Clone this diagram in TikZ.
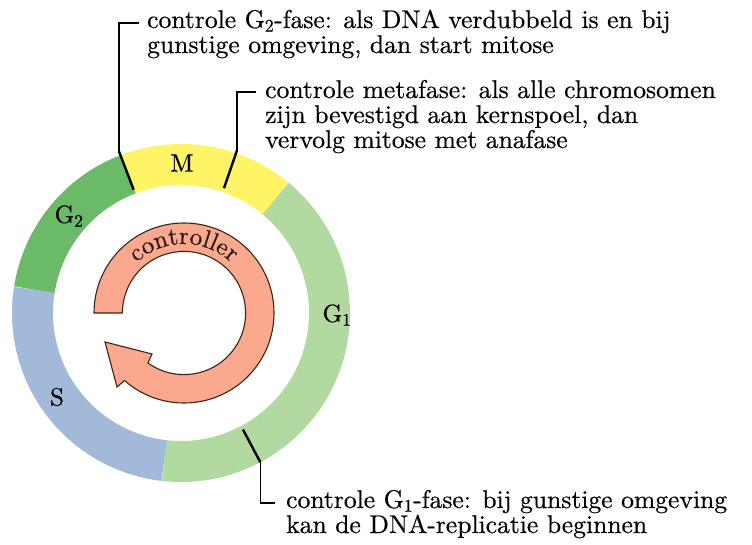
\documentclass[tikz,border=0pt]{standalone}
\usepackage{fontspec}
\setmainfont{lmroman10-regular}[Extension=.otf, BoldFont=lmroman10-regular, BoldFeatures={FakeBold=0.45}, ItalicFont=lmroman10-italic]
\usetikzlibrary{decorations.text}
\definecolor{cM}{HTML}{FFF366}
\definecolor{cGtwo}{HTML}{6BBA68}
\definecolor{cGone}{HTML}{B2DAA0}
\definecolor{cS}{HTML}{A3B9DA}
\definecolor{cArrow}{HTML}{FAA88E}
\definecolor{cEdge}{HTML}{3A2418}
\definecolor{cWord}{HTML}{2A1A12}
\tikzset{
  seg/.style={line width=41pt},
  lab/.style={inner sep=0pt, font=\fontsize{25}{25}\selectfont\bfseries},
  txt/.style={inner sep=0pt, align=left, font=\fontsize{25.6}{25}\selectfont\bfseries},
  ckthick/.style={line width=2.4pt, black},
  ckthin/.style={line width=1.6pt, black, line cap=rect},
  arrowshape/.style={fill=cArrow, draw=cEdge, line width=1.1pt, line join=miter}
}
\begin{document}
\begin{tikzpicture}[x=1pt,y=1pt]
\useasboundingbox (0,0) rectangle (752,544);
\coordinate (C) at (181,231);
% ring segments
\draw[seg, cGone] ([shift={(-96.5:148.5)}]C) arc[start angle=-96.5, end angle=50.5, radius=148.5];
\draw[seg, cM] ([shift={(50.5:148.5)}]C) arc[start angle=50.5, end angle=111, radius=148.5];
\draw[seg, cGtwo] ([shift={(111:148.5)}]C) arc[start angle=111, end angle=171, radius=148.5];
\draw[seg, cS] ([shift={(171:148.5)}]C) arc[start angle=171, end angle=263.5, radius=148.5];
% ring labels
\node[lab] (lM) at (182,381) {M};
\node[lab] (lG2) at (69,328) {G\textsubscript{2}};
\node[lab] (lG1) at (337,229) {G\textsubscript{1}};
\node[lab] (lS) at (57,147) {S};
% controller arrow
\coordinate (A) at (184,231);
\coordinate (hOuter) at (117,157);
\coordinate (hTip) at (105,202);
\coordinate (hInner) at (152,190);
\filldraw[arrowshape] ([shift={(180:90)}]A) arc[start angle=180, end angle=-131.4, radius=90]
  -- (hOuter) -- (hTip) -- (hInner) -- ([shift={(-125.8:61.6)}]A)
  arc[start angle=-125.8, end angle=180, radius=61.6] -- cycle;
\path[decorate, decoration={text along path, text align=center,
  text={|\fontsize{25}{25}\selectfont\bfseries\color{cWord}|controller}}]
  ([shift={(155:69)}]A) arc[start angle=155, end angle=25, radius=69];
% checkpoint texts
\node[txt, anchor=base west] (g2t) at (147,491) {controle G\textsubscript{2}-fase: als DNA verdubbeld is en bij\\gunstige omgeving, dan start mitose};
\node[txt, anchor=base west] (mt) at (265,396) {controle metafase: als alle chromosomen\\zijn bevestigd aan kernspoel, dan\\vervolg mitose met anafase};
\node[txt, anchor=base west] (g1t) at (286,11) {controle G\textsubscript{1}-fase: bij gunstige omgeving\\kan de DNA-replicatie beginnen};
% checkpoint connectors
\coordinate (g2in) at ([shift={(111:132)}]C);
\coordinate (g2out) at ([shift={(111:173)}]C);
\coordinate (g2tick) at ([shift={(-9,30)}]g2t.base west);
\draw[ckthick] (g2in) -- (g2out);
\draw[ckthin] (g2out) |- (g2tick);
\coordinate (min) at ([shift={(71:132)}]C);
\coordinate (mout) at ([shift={(71:172)}]C);
\coordinate (mtick) at ([shift={(-10,56)}]mt.base west);
\draw[ckthick] (min) -- (mout);
\draw[ckthin] (mout) |- (mtick);
\coordinate (g1in) at ([shift={(-62:132)}]C);
\coordinate (g1out) at ([shift={(-62:169)}]C);
\coordinate (g1tick) at ([shift={(-12,30)}]g1t.base west);
\draw[ckthick] (g1in) -- (g1out);
\draw[ckthin] (g1out) |- (g1tick);
\end{tikzpicture}
\end{document}
